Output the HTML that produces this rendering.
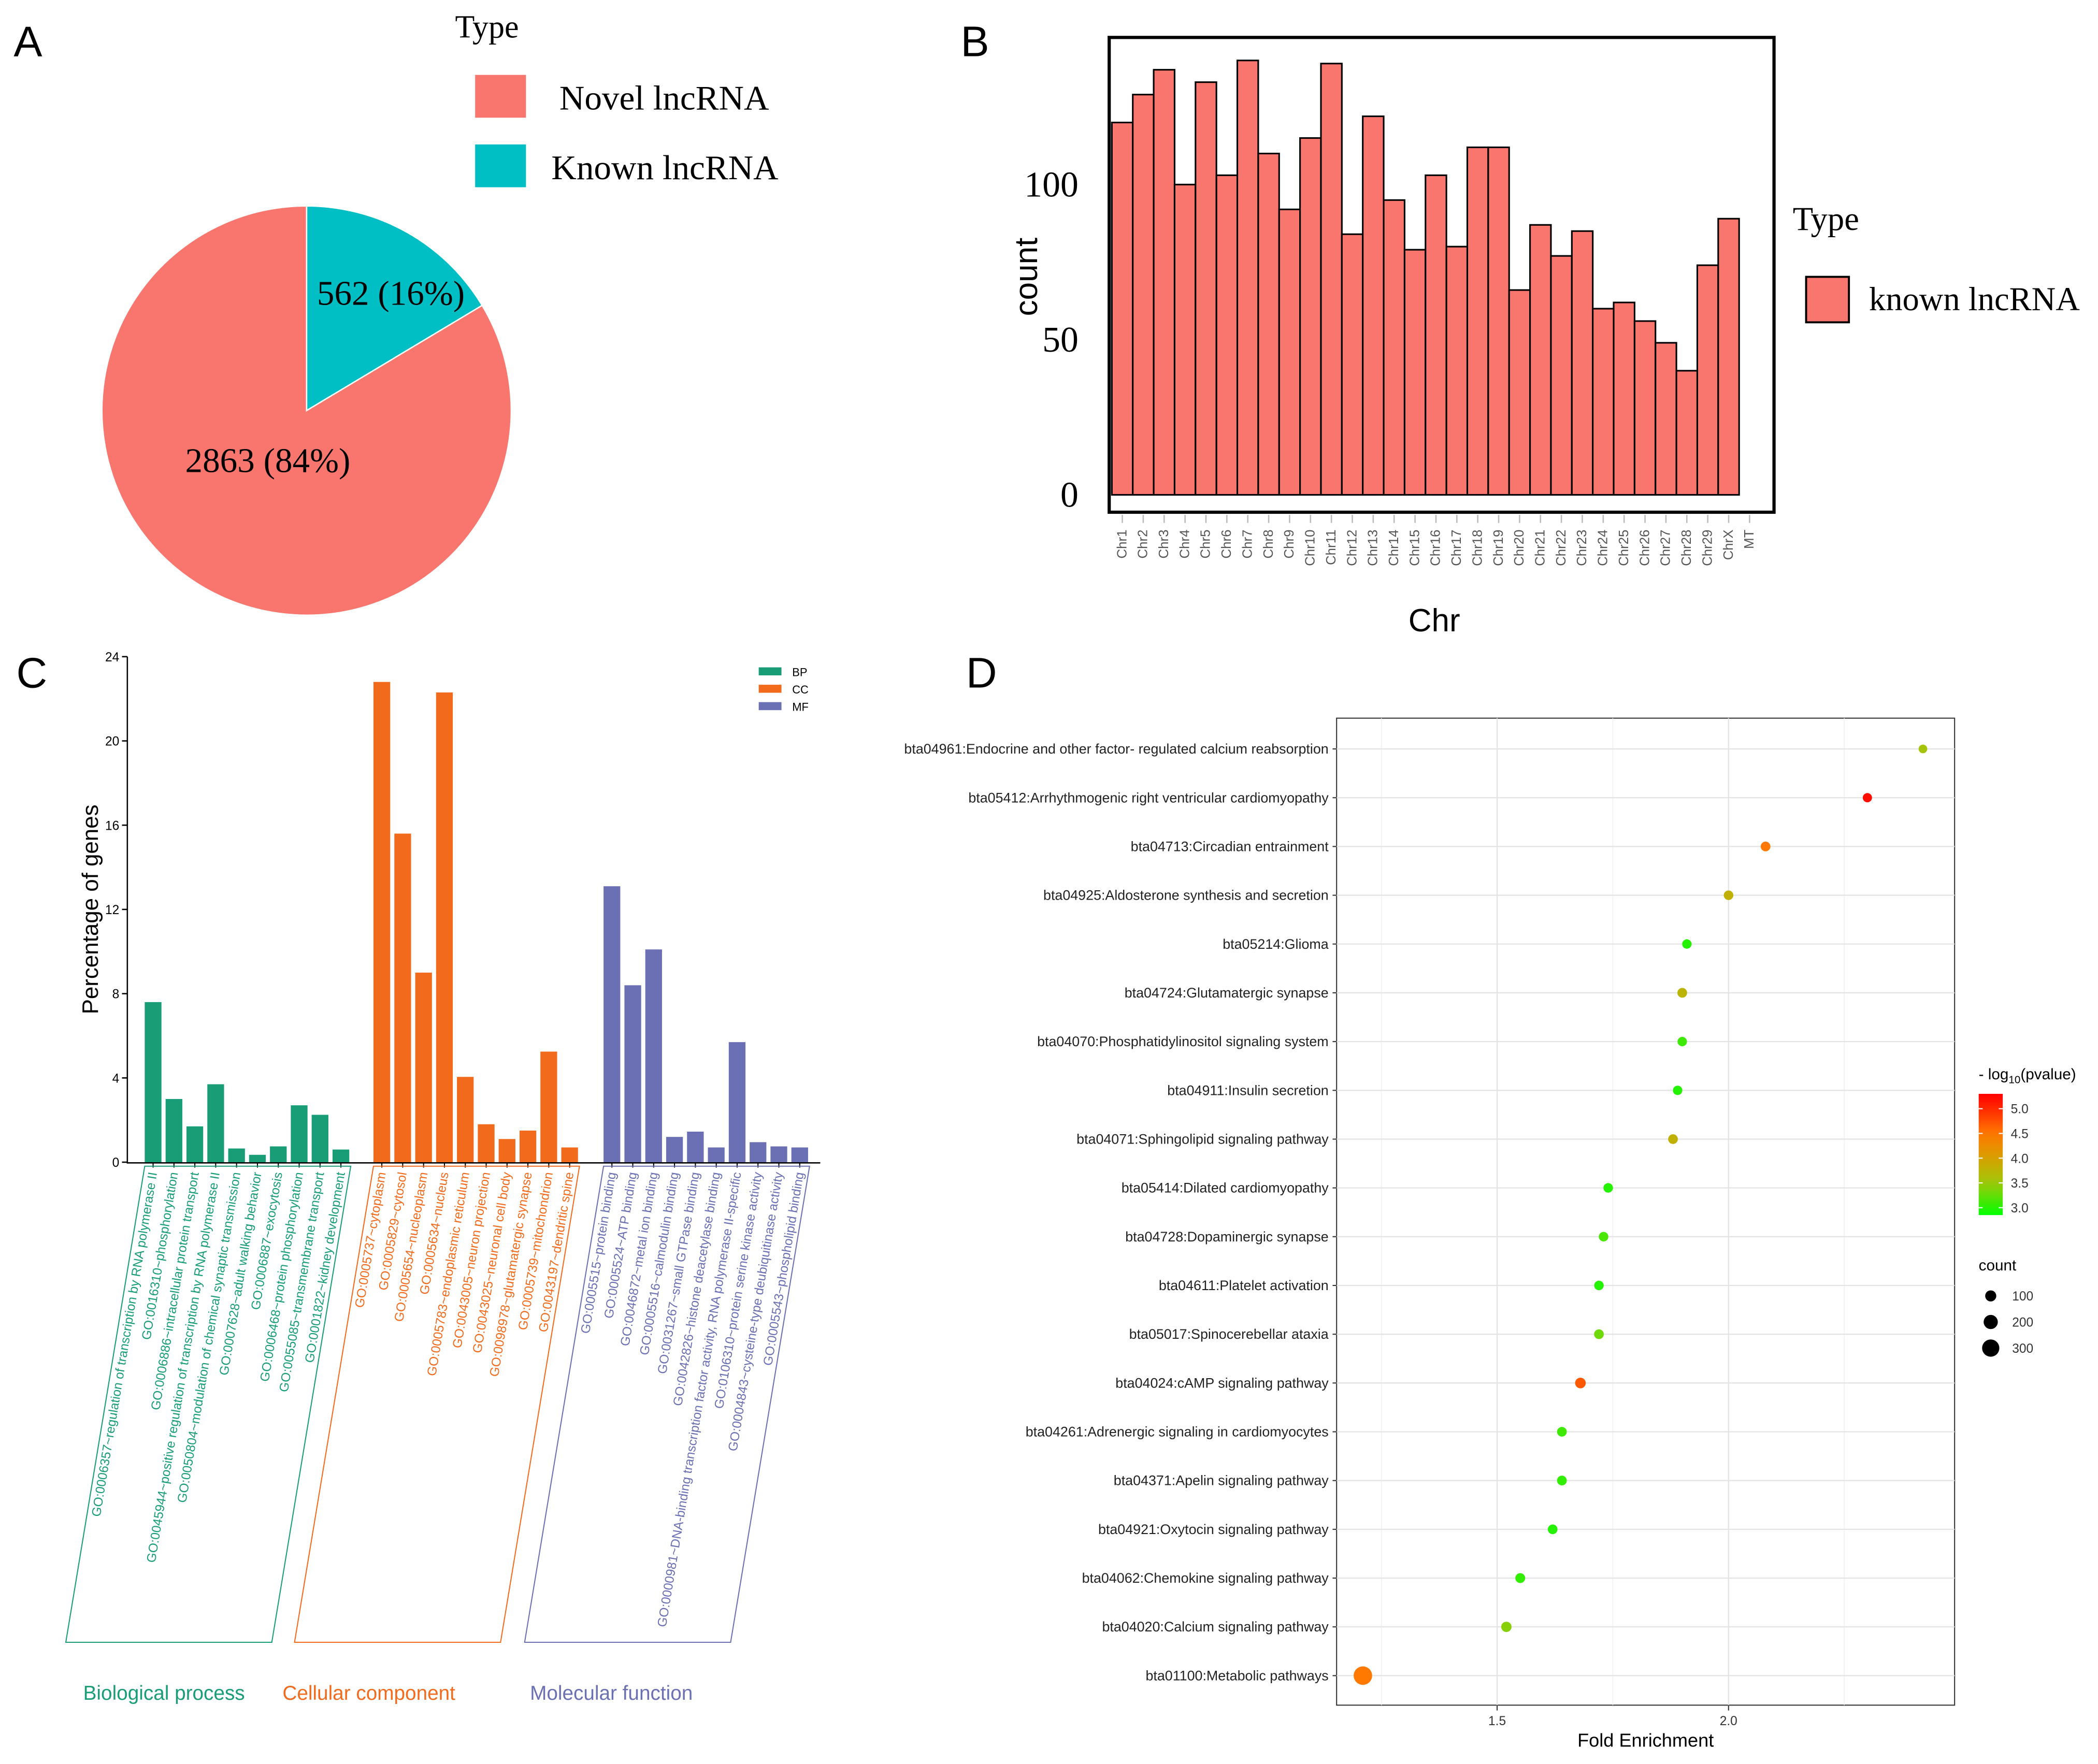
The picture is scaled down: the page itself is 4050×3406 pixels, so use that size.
<!DOCTYPE html>
<html><head><meta charset="utf-8"><style>
html,body{margin:0;padding:0;background:#fff;}
svg{display:block;font-family:"Liberation Sans",sans-serif;}
.serif{font-family:"Liberation Serif",serif;}
</style></head><body>
<svg id="fig" width="4050" height="3406" viewBox="0 0 1568 1319">
<rect width="1568" height="1319" fill="#fff"/>
<text x="10" y="42" font-size="32">A</text>
<text x="718" y="42" font-size="32">B</text>
<text x="12" y="514" font-size="32">C</text>
<text x="722" y="514" font-size="32">D</text>
<g class="serif">
<text x="340" y="28" font-size="24" class="serif">Type</text>
<rect x="355" y="56" width="38" height="32" fill="#f8766d"/>
<text x="418" y="82" font-size="26" class="serif">Novel lncRNA</text>
<rect x="355" y="108" width="38" height="32" fill="#00bfc4"/>
<text x="412" y="134" font-size="26" class="serif">Known lncRNA</text>
</g>
<g id="pie"></g>
<g id="chrB"></g>
<g id="goC"></g>
<g id="kegg"></g>
</svg>
<script>
const NS="http://www.w3.org/2000/svg";
function mk(parent,tag,attrs,text){const e=document.createElementNS(NS,tag);for(const k in attrs)e.setAttribute(k,attrs[k]);if(text!==undefined)e.textContent=text;parent.appendChild(e);return e;}

const pieLabels=["Known lncRNA","Novel lncRNA"];
const pieValues=[562,2863];
const pieColors=["#00bfc4","#f8766d"];
(function(){
 const g=document.getElementById('pie');const cx=229,cy=307,r=153;
 const tot=pieValues.reduce((a,b)=>a+b,0);let a0=0;
 pieValues.forEach((v,i)=>{
  const a1=a0+v/tot*2*Math.PI;
  const x0=cx+r*Math.sin(a0),y0=cy-r*Math.cos(a0),x1=cx+r*Math.sin(a1),y1=cy-r*Math.cos(a1);
  const large=(a1-a0)>Math.PI?1:0;
  const p=mk(g,'path',{d:`M${cx},${cy}L${x0},${y0}A${r},${r} 0 ${large} 1 ${x1},${y1}Z`,fill:pieColors[i],stroke:'#fff','stroke-width':1});
  
  
  const pct=Math.round(v/tot*100);
  let tx,ty;
  if(i===1){tx=200;ty=353;} else {tx=292;ty=228;}
  const t=mk(g,'text',{x:tx,y:ty,'font-size':26,'text-anchor':'middle','class':'serif'},v+' ('+pct+'%)');
  
  
  a0=a1;
 });
})();

const chrNames=["Chr1","Chr2","Chr3","Chr4","Chr5","Chr6","Chr7","Chr8","Chr9","Chr10","Chr11","Chr12","Chr13","Chr14","Chr15","Chr16","Chr17","Chr18","Chr19","Chr20","Chr21","Chr22","Chr23","Chr24","Chr25","Chr26","Chr27","Chr28","Chr29","ChrX","MT"];
const chrCounts=[120,129,137,100,133,103,140,110,92,115,139,84,122,95,79,103,80,112,112,66,87,77,85,60,62,56,49,40,74,89,0];
const chrTicks=[0,50,100];
(function(){
 const g=document.getElementById('chrB');
 const y=v=>370-v*2.32; const step=15.63, x0=831;
 const xb=i=>x0+i*step;
 const f=mk(g,'rect',{x:829,y:28,width:497,height:355,fill:'none',stroke:'#000','stroke-width':2.4});
 
 
 chrCounts.forEach((v,i)=>{
  if(v<=0)return;
  const b=mk(g,'rect',{x:xb(i),y:y(v),width:step,height:v*2.32,fill:'#f8766d',stroke:'#000','stroke-width':1.2});
  
  
 });
 chrTicks.forEach(t=>{
  const l=mk(g,'text',{x:806,y:y(t)+9,'font-size':27,'text-anchor':'end','class':'serif'},t);
  
  
 });
 chrNames.forEach((n,i)=>{
  const cx=xb(i)+step/2;
  mk(g,'line',{x1:cx,y1:385,x2:cx,y2:391,stroke:'#bbb','stroke-width':1});
  const t=mk(g,'text',{x:0,y:0,'font-size':10,fill:'#555','text-anchor':'end',transform:`translate(${cx+3},396) rotate(-90)`},n);
  
  
 });
 const xt=mk(g,'text',{x:1072,y:472,'font-size':24,'text-anchor':'middle'},'Chr');
 
 
 const yt=mk(g,'text',{x:0,y:0,'font-size':24,'text-anchor':'middle',transform:'translate(775,207) rotate(-90)'},'count');
 
 
 const lt=mk(g,'text',{x:1340,y:172,'font-size':25,'class':'serif'},'Type');
 
 
 const ls=mk(g,'rect',{x:1350,y:207,width:32,height:34,fill:'#f8766d',stroke:'#000','stroke-width':1.5});
 
 
 const ll=mk(g,'text',{x:1397,y:232,'font-size':25,'class':'serif'},'known lncRNA');
 
 
})();

const bpTerms=["GO:0006357~regulation of transcription by RNA polymerase II","GO:0016310~phosphorylation","GO:0006886~intracellular protein transport","GO:0045944~positive regulation of transcription by RNA polymerase II","GO:0050804~modulation of chemical synaptic transmission","GO:0007628~adult walking behavior","GO:0006887~exocytosis","GO:0006468~protein phosphorylation","GO:0055085~transmembrane transport","GO:0001822~kidney development"];
const bpValues=[7.6,3.0,1.7,3.7,0.65,0.35,0.75,2.7,2.25,0.6];
const ccTerms=["GO:0005737~cytoplasm","GO:0005829~cytosol","GO:0005654~nucleoplasm","GO:0005634~nucleus","GO:0005783~endoplasmic reticulum","GO:0043005~neuron projection","GO:0043025~neuronal cell body","GO:0098978~glutamatergic synapse","GO:0005739~mitochondrion","GO:0043197~dendritic spine"];
const ccValues=[22.8,15.6,9.0,22.3,4.05,1.8,1.1,1.5,5.25,0.7];
const mfTerms=["GO:0005515~protein binding","GO:0005524~ATP binding","GO:0046872~metal ion binding","GO:0005516~calmodulin binding","GO:0031267~small GTPase binding","GO:0042826~histone deacetylase binding","GO:0000981~DNA-binding transcription factor activity, RNA polymerase II-specific","GO:0106310~protein serine kinase activity","GO:0004843~cysteine-type deubiquitinase activity","GO:0005543~phospholipid binding"];
const mfValues=[13.1,8.4,10.1,1.2,1.45,0.7,5.7,0.95,0.75,0.7];
const goTicks=[0,4,8,12,16,20,24];
(function(){
 const g=document.getElementById('goC');
 const y=v=>869-v*(378/24);
 mk(g,'line',{x1:95,y1:491,x2:95,y2:870,stroke:'#000','stroke-width':1});
 mk(g,'line',{x1:95,y1:869.5,x2:613,y2:869.5,stroke:'#000','stroke-width':1});
 goTicks.forEach(t=>{
  mk(g,'line',{x1:91,y1:y(t),x2:95,y2:y(t),stroke:'#000','stroke-width':1});
  const l=mk(g,'text',{x:89,y:y(t)+3.5,'font-size':9.5,'text-anchor':'end'},t);
  
  
 });
 const yt=mk(g,'text',{x:0,y:0,'font-size':17,'text-anchor':'middle',transform:'translate(73,680) rotate(-90)'},'Percentage of genes');
 
 
 const groups=[["bp",bpTerms,bpValues,108,"#189d77","Biological process",62],["cc",ccTerms,ccValues,279,"#f26b1d","Cellular component",211],["mf",mfTerms,mfValues,451,"#6a70b3","Molecular function",396]];
 const step=15.6,bw=12.5;
 groups.forEach(([key,terms,vals,x0,col,title,tx])=>{
  vals.forEach((v,i)=>{
   const b=mk(g,'rect',{x:x0+i*step,y:y(v),width:bw,height:869-y(v),fill:col});
   
   
   const cx=x0+i*step+bw/2;
   mk(g,'line',{x1:cx,y1:869,x2:cx,y2:873,stroke:'#000','stroke-width':0.8});
   const t=mk(g,'text',{x:0,y:0,'font-size':9.5,fill:col,'text-anchor':'end',transform:`translate(${cx+3},877) rotate(-80.6)`},terms[i]);
   
   
  });
  const p=mk(g,'polygon',{points:`${x0},872 ${x0+154},872 ${x0+95},1228 ${x0-59},1228`,fill:'none',stroke:col,'stroke-width':0.8});
  
  
  const tt=mk(g,'text',{x:tx,y:1271,'font-size':15,fill:col},title);
  
  
 });
 [["BP","#189d77",503],["CC","#f26b1d",516],["MF","#6a70b3",529]].forEach(([n,c,yy])=>{
  const s=mk(g,'rect',{x:567,y:yy-4,width:17,height:6,fill:c});
  
  
  const l=mk(g,'text',{x:592,y:yy+2.5,'font-size':8.5},n);
  
  
 });
})();

const keggTerms=["bta04961:Endocrine and other factor- regulated calcium reabsorption","bta05412:Arrhythmogenic right ventricular cardiomyopathy","bta04713:Circadian entrainment","bta04925:Aldosterone synthesis and secretion","bta05214:Glioma","bta04724:Glutamatergic synapse","bta04070:Phosphatidylinositol signaling system","bta04911:Insulin secretion","bta04071:Sphingolipid signaling pathway","bta05414:Dilated cardiomyopathy","bta04728:Dopaminergic synapse","bta04611:Platelet activation","bta05017:Spinocerebellar ataxia","bta04024:cAMP signaling pathway","bta04261:Adrenergic signaling in cardiomyocytes","bta04371:Apelin signaling pathway","bta04921:Oxytocin signaling pathway","bta04062:Chemokine signaling pathway","bta04020:Calcium signaling pathway","bta01100:Metabolic pathways"];
const keggFold=[2.42,2.30,2.08,2.00,1.91,1.90,1.90,1.89,1.88,1.74,1.73,1.72,1.72,1.68,1.64,1.64,1.62,1.55,1.52,1.21];
const keggLogP=[3.55,5.2,4.5,3.8,3.0,3.75,3.1,3.0,3.8,3.0,3.15,3.0,3.3,4.7,3.1,3.05,3.0,3.05,3.4,4.5];
const keggCount=[20,40,55,50,45,55,45,45,55,50,50,50,55,85,55,55,55,60,75,340];
const foldTicks=[1.5,2.0];
const pTicks=[3.0,3.5,4.0,4.5,5.0];
const countTicks=[100,200,300];
(function(){
 const g=document.getElementById('kegg');
 const X=v=>1119+(v-1.5)*346;
 const Y=i=>560+i*36.47;
 const R=c=>3+c/100*1.15;
 const stops=[[2.85,[0,255,0]],[3.5,[160,200,10]],[4.0,[215,160,0]],[4.5,[255,120,0]],[5.0,[255,40,0]],[5.3,[255,0,0]]];
 const C=p=>{p=Math.max(2.85,Math.min(5.3,p));for(let k=0;k<stops.length-1;k++){const[a,ca]=stops[k],[b,cb]=stops[k+1];if(p<=b){const t=(p-a)/(b-a);return `rgb(${ca.map((c,j)=>Math.round(c+(cb[j]-c)*t)).join(',')})`;}}return 'rgb(255,0,0)';};
 const bg=mk(g,'rect',{x:999,y:537,width:462,height:738,fill:'#fff',stroke:'#333','stroke-width':0.8});
 
 
 [1.25,1.5,1.75,2.0,2.25].forEach(v=>mk(g,'line',{x1:X(v),y1:537,x2:X(v),y2:1275,stroke:v*4%2===0?'#e4e4e4':'#f0f0f0','stroke-width':v*4%2===0?0.9:0.6}));
 keggTerms.forEach((n,i)=>mk(g,'line',{x1:999,y1:Y(i),x2:1461,y2:Y(i),stroke:'#e4e4e4','stroke-width':0.9}));
 keggTerms.forEach((n,i)=>{
  const t=mk(g,'text',{x:993,y:Y(i)+3.5,'font-size':10.4,'text-anchor':'end',fill:'#222'},n);
  
  
  mk(g,'line',{x1:996,y1:Y(i),x2:999,y2:Y(i),stroke:'#333','stroke-width':0.8});
  const d=mk(g,'circle',{cx:X(keggFold[i]),cy:Y(i),r:R(keggCount[i]),fill:C(keggLogP[i])});
  
  
 });
 foldTicks.forEach(v=>{
  mk(g,'line',{x1:X(v),y1:1275,x2:X(v),y2:1279,stroke:'#333','stroke-width':0.8});
  const t=mk(g,'text',{x:X(v),y:1290,'font-size':9.5,'text-anchor':'middle',fill:'#333'},v.toFixed(1));
  
  
 });
 const xt=mk(g,'text',{x:1230,y:1306,'font-size':14,'text-anchor':'middle'},'Fold Enrichment');
 
 
 const lt=mk(g,'text',{x:1479,y:807,'font-size':11.5},'');
 lt.innerHTML='- log<tspan font-size="8" dy="3">10</tspan><tspan dy="-3">(pvalue)</tspan>';
 
 
 const defs=mk(g,'defs',{});
 const lg=mk(defs,'linearGradient',{id:'pg',x1:0,y1:1,x2:0,y2:0});
 for(let k=0;k<=10;k++){const p=2.85+k*0.245;mk(lg,'stop',{offset:k/10,'stop-color':C(p)});}
 const py=p=>903-(p-3.0)*37;
 const cb=mk(g,'rect',{x:1479,y:py(5.3),width:18,height:py(2.85)-py(5.3),fill:'url(#pg)'});
 
 
 pTicks.forEach(p=>{
  mk(g,'line',{x1:1479,y1:py(p),x2:1482,y2:py(p),stroke:'#fff','stroke-width':0.8});
  mk(g,'line',{x1:1494,y1:py(p),x2:1497,y2:py(p),stroke:'#fff','stroke-width':0.8});
  const t=mk(g,'text',{x:1503,y:py(p)+3.5,'font-size':9.5,fill:'#333'},p.toFixed(1));
  
  
 });
 const ct=mk(g,'text',{x:1479,y:950,'font-size':11.5},'count');
 
 
 countTicks.forEach((c,k)=>{
  const yy=969+k*19.5;
  const d=mk(g,'circle',{cx:1488,cy:yy,r:R(c),fill:'#000'});
  
  
  const t=mk(g,'text',{x:1504,y:yy+3.5,'font-size':9.5,fill:'#333'},c);
  
  
 });
})();
</script>
</body></html>
